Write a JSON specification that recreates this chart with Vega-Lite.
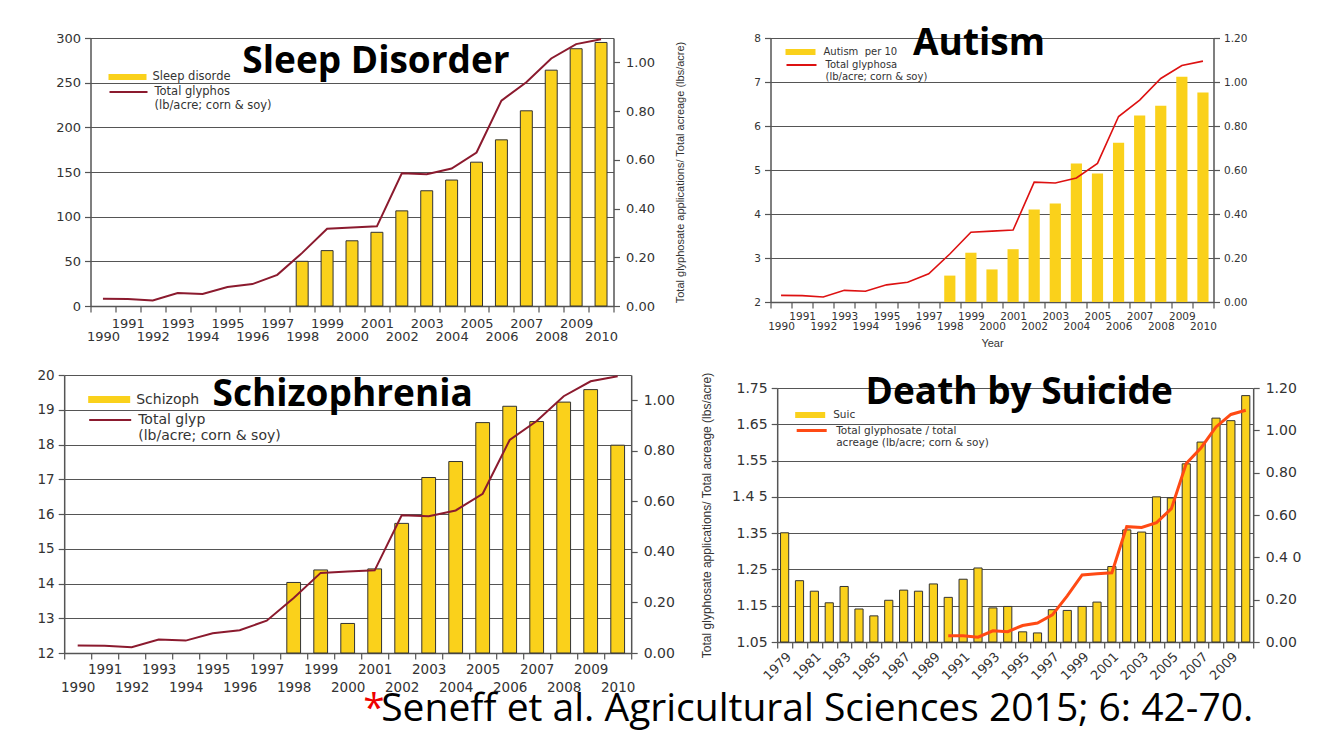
{
  "$schema": "https://vega.github.io/schema/vega-lite/v6.json",
  "background": "white",
  "padding": {"left": 8, "top": 25, "right": 5, "bottom": 2},
  "config": {
    "view": {"stroke": null},
    "font": "DejaVu Sans",
    "axis": {"labelFont": "DejaVu Sans", "titleFont": "Liberation Sans", "labelColor": "#333", "titleColor": "#333", "titleFontWeight": "normal", "domainColor": "#555", "tickColor": "#555", "gridColor": "#555", "gridOpacity": 1, "domainWidth": 1.5, "tickWidth": 1.2, "gridWidth": 1.2},
    "legend": {"labelFont": "DejaVu Sans", "labelColor": "#333", "padding": 0},
    "title": {"font": "Open Sans", "fontWeight": "bold", "color": "#000", "anchor": "middle", "frame": "group", "baseline": "alphabetic"}
  },
  "title": {"text": "Seneff et al. Agricultural Sciences 2015; 6: 42-70.", "orient": "bottom", "anchor": "start", "frame": "bounds", "font": "Open Sans", "fontSize": 39, "fontWeight": "normal", "color": "#000", "dx": 373, "offset": -39, "baseline": "top"},
  "spacing": 20,
  "center": true,
  "resolve": {"scale": {"fill": "independent", "stroke": "independent"}, "legend": {"fill": "independent", "stroke": "independent"}},
  "vconcat": [
    {
      "hconcat": [
        {
          "width": 523, "height": 268,
          "title": {"text": "Sleep Disorder", "fontSize": 37, "offset": -49, "dx": 24},
          "data": {"values": [
            {"year": 1990, "glyph": 0.030}, {"year": 1991, "glyph": 0.029}, {"year": 1992, "glyph": 0.023}, {"year": 1993, "glyph": 0.053},
            {"year": 1994, "glyph": 0.049}, {"year": 1995, "glyph": 0.078}, {"year": 1996, "glyph": 0.090}, {"year": 1997, "glyph": 0.128},
            {"year": 1998, "rate": 50, "glyph": 0.218}, {"year": 1999, "rate": 62, "glyph": 0.317}, {"year": 2000, "rate": 73, "glyph": 0.322},
            {"year": 2001, "rate": 82.5, "glyph": 0.327}, {"year": 2002, "rate": 106.5, "glyph": 0.545}, {"year": 2003, "rate": 129, "glyph": 0.541},
            {"year": 2004, "rate": 141, "glyph": 0.564}, {"year": 2005, "rate": 161, "glyph": 0.630}, {"year": 2006, "rate": 186, "glyph": 0.843},
            {"year": 2007, "rate": 218.5, "glyph": 0.918}, {"year": 2008, "rate": 264, "glyph": 1.016}, {"year": 2009, "rate": 288, "glyph": 1.075},
            {"year": 2010, "rate": 295, "glyph": 1.095}
          ]},
          "encoding": {"x": {"field": "year", "type": "ordinal", "scale": {"paddingInner": 0, "paddingOuter": 0},
            "axis": {"title": null, "tickBand": "extent", "labelAngle": 0, "labelOverlap": false, "labelExpr": "datum.value % 2 == 1 ? [datum.label, ''] : ['', datum.label]", "labelLineHeight": 13, "labelFontSize": 13, "tickSize": 6, "labelPadding": 5}}},
          "layer": [
            {"mark": {"type": "bar", "width": {"band": 0.48}, "stroke": "#333", "strokeWidth": 1},
             "encoding": {
               "y": {"field": "rate", "type": "quantitative", "scale": {"domain": [0, 300], "nice": false, "zero": false},
                     "axis": {"orient": "left", "title": null, "grid": true, "values": [0, 50, 100, 150, 200, 250, 300], "labelFontSize": 13, "tickSize": 6, "labelPadding": 4, "minExtent": 56, "maxExtent": 56}},
               "fill": {"datum": "Sleep disorde", "type": "nominal", "scale": {"range": ["#FAD11B"]},
                        "legend": {"orient": "none", "legendX": 18, "legendY": 20, "title": null, "symbolType": "M-1,-0.16L1,-0.16L1,0.16L-1,0.16Z", "symbolSize": 1444, "symbolStrokeWidth": 0, "labelFontSize": 11.5, "labelOffset": 6}}
             }},
            {"mark": {"type": "line", "strokeWidth": 2},
             "encoding": {
               "y": {"field": "glyph", "type": "quantitative", "scale": {"domain": [0, 1.1], "nice": false, "zero": false},
                     "axis": {"orient": "right", "grid": false, "values": [0, 0.2, 0.4, 0.6, 0.8, 1.0], "format": ".2f", "labelFontSize": 13, "tickSize": 6, "labelPadding": 6, "minExtent": 42, "maxExtent": 42,
                              "title": "Total glyphosate applications/ Total acreage (lbs/acre)", "titleFontSize": 11, "titleAngle": -90, "titleBaseline": "top", "titlePadding": 19}},
               "stroke": {"datum": "Total glyphos|(lb/acre; corn & soy)", "type": "nominal", "scale": {"range": ["#8B1A2E"]},
                          "legend": {"orient": "none", "legendX": 18, "legendY": 34, "title": null, "symbolType": "stroke", "symbolSize": 1444, "symbolStrokeWidth": 2, "labelFontSize": 11.5, "labelOffset": 6, "labelExpr": "split(datum.label, '|')"}}
             }}
          ],
          "resolve": {"scale": {"y": "independent"}, "axis": {"y": "independent"}}
        },
        {
          "width": 443, "height": 264,
          "title": {"text": "Autism", "fontSize": 37, "offset": -30, "dx": -13},
          "data": {"values": [
            {"year": 1990, "glyph": 0.030}, {"year": 1991, "glyph": 0.029}, {"year": 1992, "glyph": 0.023}, {"year": 1993, "glyph": 0.053},
            {"year": 1994, "glyph": 0.049}, {"year": 1995, "glyph": 0.078}, {"year": 1996, "glyph": 0.090}, {"year": 1997, "glyph": 0.128},
            {"year": 1998, "rate": 2.60, "glyph": 0.218}, {"year": 1999, "rate": 3.12, "glyph": 0.317}, {"year": 2000, "rate": 2.74, "glyph": 0.322},
            {"year": 2001, "rate": 3.20, "glyph": 0.327}, {"year": 2002, "rate": 4.10, "glyph": 0.545}, {"year": 2003, "rate": 4.24, "glyph": 0.541},
            {"year": 2004, "rate": 5.15, "glyph": 0.564}, {"year": 2005, "rate": 4.92, "glyph": 0.630}, {"year": 2006, "rate": 5.62, "glyph": 0.843},
            {"year": 2007, "rate": 6.24, "glyph": 0.918}, {"year": 2008, "rate": 6.46, "glyph": 1.016}, {"year": 2009, "rate": 7.12, "glyph": 1.075},
            {"year": 2010, "rate": 6.76, "glyph": 1.095}
          ]},
          "encoding": {"x": {"field": "year", "type": "ordinal", "scale": {"paddingInner": 0, "paddingOuter": 0},
            "axis": {"title": "Year", "titleFontSize": 11, "titlePadding": 5, "tickBand": "extent", "labelAngle": 0, "labelOverlap": false, "labelExpr": "datum.value % 2 == 1 ? [datum.label, ''] : ['', datum.label]", "labelLineHeight": 10.5, "labelFontSize": 10.5, "tickSize": 6, "labelPadding": 3}}},
          "layer": [
            {"mark": {"type": "bar", "width": {"band": 0.53}},
             "encoding": {
               "y": {"field": "rate", "type": "quantitative", "scale": {"domain": [2, 8], "nice": false, "zero": false},
                     "axis": {"orient": "left", "title": null, "grid": true, "values": [2, 3, 4, 5, 6, 7, 8], "labelFontSize": 10.5, "tickSize": 6, "labelPadding": 4}},
               "y2": {"datum": 2},
               "fill": {"datum": "Autism\u00a0 per 10", "type": "nominal", "scale": {"range": ["#FAD11B"]},
                        "legend": {"orient": "none", "legendX": 15, "legendY": -1, "title": null, "symbolType": "M-1,-0.2L1,-0.2L1,0.2L-1,0.2Z", "symbolSize": 900, "symbolStrokeWidth": 0, "labelFontSize": 10, "labelOffset": 8}}
             }},
            {"mark": {"type": "line", "strokeWidth": 1.6},
             "encoding": {
               "y": {"field": "glyph", "type": "quantitative", "scale": {"domain": [0, 1.2], "nice": false, "zero": false},
                     "axis": {"orient": "right", "grid": false, "title": null, "values": [0, 0.2, 0.4, 0.6, 0.8, 1.0, 1.2], "format": ".2f", "labelFontSize": 10.5, "tickSize": 6, "labelPadding": 4, "minExtent": 61, "maxExtent": 61}},
               "stroke": {"datum": "Total glyphosa|(lb/acre; corn & soy)", "type": "nominal", "scale": {"range": ["#DD1111"]},
                          "legend": {"orient": "none", "legendX": 15, "legendY": 11, "title": null, "symbolType": "stroke", "symbolSize": 900, "symbolStrokeWidth": 2, "labelFontSize": 10, "labelOffset": 8, "labelExpr": "split(datum.label, '|')"}}
             }}
          ],
          "resolve": {"scale": {"y": "independent"}, "axis": {"y": "independent"}}
        }
      ],
      "bounds": "flush",
      "spacing": 157,
      "resolve": {"scale": {"fill": "independent", "stroke": "independent"}, "legend": {"fill": "independent", "stroke": "independent"}}
    },
    {
      "title": {"text": "*", "orient": "bottom", "anchor": "start", "frame": "bounds", "font": "Open Sans", "fontSize": 39, "fontWeight": "normal", "color": "#EE0000", "dx": 355, "offset": -4, "baseline": "top"},
      "hconcat": [
        {
          "width": 567, "height": 278,
          "title": {"text": "Schizophrenia", "fontSize": 37, "offset": -46, "dx": -5},
          "data": {"values": [
            {"year": 1990, "glyph": 0.030}, {"year": 1991, "glyph": 0.029}, {"year": 1992, "glyph": 0.023}, {"year": 1993, "glyph": 0.053},
            {"year": 1994, "glyph": 0.049}, {"year": 1995, "glyph": 0.078}, {"year": 1996, "glyph": 0.090}, {"year": 1997, "glyph": 0.128},
            {"year": 1998, "rate": 14.03, "glyph": 0.218}, {"year": 1999, "rate": 14.39, "glyph": 0.317}, {"year": 2000, "rate": 12.85, "glyph": 0.322},
            {"year": 2001, "rate": 14.42, "glyph": 0.327}, {"year": 2002, "rate": 15.73, "glyph": 0.545}, {"year": 2003, "rate": 17.05, "glyph": 0.541},
            {"year": 2004, "rate": 17.51, "glyph": 0.564}, {"year": 2005, "rate": 18.63, "glyph": 0.630}, {"year": 2006, "rate": 19.10, "glyph": 0.843},
            {"year": 2007, "rate": 18.66, "glyph": 0.918}, {"year": 2008, "rate": 19.22, "glyph": 1.016}, {"year": 2009, "rate": 19.58, "glyph": 1.075},
            {"year": 2010, "rate": 17.98, "glyph": 1.095}
          ]},
          "encoding": {"x": {"field": "year", "type": "ordinal", "scale": {"paddingInner": 0, "paddingOuter": 0},
            "axis": {"title": null, "tickBand": "extent", "labelAngle": 0, "labelOverlap": false, "labelExpr": "datum.value % 2 == 1 ? [datum.label, ''] : ['', datum.label]", "labelLineHeight": 18, "labelFontSize": 13.5, "tickSize": 6, "labelPadding": 3}}},
          "layer": [
            {"mark": {"type": "bar", "width": {"band": 0.51}, "stroke": "#333", "strokeWidth": 1},
             "encoding": {
               "y": {"field": "rate", "type": "quantitative", "scale": {"domain": [12, 20], "nice": false, "zero": false},
                     "axis": {"orient": "left", "title": null, "grid": true, "values": [12, 13, 14, 15, 16, 17, 18, 19, 20], "labelFontSize": 13.5, "tickSize": 6, "labelPadding": 4, "minExtent": 56, "maxExtent": 56}},
               "y2": {"datum": 12},
               "fill": {"datum": "Schizoph", "type": "nominal", "scale": {"range": ["#FAD11B"]},
                        "legend": {"orient": "none", "legendX": 24, "legendY": 3.5, "title": null, "symbolType": "M-1,-0.17L1,-0.17L1,0.17L-1,0.17Z", "symbolSize": 1764, "symbolStrokeWidth": 0, "labelFontSize": 14, "labelOffset": 6}}
             }},
            {"mark": {"type": "line", "strokeWidth": 2},
             "encoding": {
               "y": {"field": "glyph", "type": "quantitative", "scale": {"domain": [0, 1.1], "nice": false, "zero": false},
                     "axis": {"orient": "right", "grid": false, "title": null, "values": [0, 0.2, 0.4, 0.6, 0.8, 1.0], "format": ".2f", "labelFontSize": 14, "tickSize": 6, "labelPadding": 6, "minExtent": 47, "maxExtent": 47}},
               "stroke": {"datum": "Total glyp|(lb/acre; corn & soy)", "type": "nominal", "scale": {"range": ["#8B1A2E"]},
                          "legend": {"orient": "none", "legendX": 24, "legendY": 23, "title": null, "symbolType": "stroke", "symbolSize": 1764, "symbolStrokeWidth": 2, "labelFontSize": 14, "labelOffset": 6, "labelExpr": "split(datum.label, '|')"}}
             }}
          ],
          "resolve": {"scale": {"y": "independent"}, "axis": {"y": "independent"}}
        },
        {
          "width": 476, "height": 278,
          "title": {"text": "Death by Suicide", "fontSize": 37, "offset": -40, "dx": 4},
          "data": {"values": [
            {"year": 1979, "rate": 1.351}, {"year": 1980, "rate": 1.219}, {"year": 1981, "rate": 1.190}, {"year": 1982, "rate": 1.158},
            {"year": 1983, "rate": 1.203}, {"year": 1984, "rate": 1.141}, {"year": 1985, "rate": 1.122}, {"year": 1986, "rate": 1.165},
            {"year": 1987, "rate": 1.193}, {"year": 1988, "rate": 1.190}, {"year": 1989, "rate": 1.210},
            {"year": 1990, "rate": 1.173, "glyph": 0.030}, {"year": 1991, "rate": 1.223, "glyph": 0.029}, {"year": 1992, "rate": 1.254, "glyph": 0.023},
            {"year": 1993, "rate": 1.144, "glyph": 0.053}, {"year": 1994, "rate": 1.148, "glyph": 0.049}, {"year": 1995, "rate": 1.078, "glyph": 0.078},
            {"year": 1996, "rate": 1.075, "glyph": 0.090}, {"year": 1997, "rate": 1.139, "glyph": 0.128}, {"year": 1998, "rate": 1.137, "glyph": 0.218},
            {"year": 1999, "rate": 1.148, "glyph": 0.317}, {"year": 2000, "rate": 1.160, "glyph": 0.322}, {"year": 2001, "rate": 1.258, "glyph": 0.327},
            {"year": 2002, "rate": 1.359, "glyph": 0.545}, {"year": 2003, "rate": 1.353, "glyph": 0.541}, {"year": 2004, "rate": 1.450, "glyph": 0.564},
            {"year": 2005, "rate": 1.447, "glyph": 0.630}, {"year": 2006, "rate": 1.541, "glyph": 0.843}, {"year": 2007, "rate": 1.601, "glyph": 0.918},
            {"year": 2008, "rate": 1.667, "glyph": 1.016}, {"year": 2009, "rate": 1.660, "glyph": 1.075}, {"year": 2010, "rate": 1.729, "glyph": 1.095}
          ]},
          "encoding": {"x": {"field": "year", "type": "ordinal", "scale": {"paddingInner": 0, "paddingOuter": 0},
            "axis": {"title": null, "offset": -11, "tickBand": "extent", "labelAngle": -45, "labelOverlap": false, "labelExpr": "datum.value % 2 == 1 ? datum.label : ''", "labelFontSize": 13, "tickSize": 6, "labelPadding": 2}}},
          "layer": [
            {"mark": {"type": "bar", "width": {"band": 0.55}, "stroke": "#333", "strokeWidth": 1},
             "encoding": {
               "y": {"field": "rate", "type": "quantitative", "scale": {"domain": [1.05, 1.75], "range": [267, 13], "nice": false, "zero": false},
                     "axis": {"orient": "left", "grid": true, "values": [1.05, 1.15, 1.25, 1.35, 1.45, 1.55, 1.65, 1.75], "format": ".2f", "labelExpr": "datum.label == '1.45' ? '1.4 5' : datum.label", "labelFontSize": 14, "tickSize": 6, "labelPadding": 4, "minExtent": 42, "maxExtent": 42,
                              "title": "Total glyphosate applications/ Total acreage (lbs/acre)", "titleFontSize": 12, "titlePadding": 22}},
               "y2": {"datum": 1.05},
               "fill": {"datum": "Suic", "type": "nominal", "scale": {"range": ["#FAD11B"]},
                        "legend": {"orient": "none", "legendX": 18, "legendY": 25, "title": null, "symbolType": "M-1,-0.2L1,-0.2L1,0.2L-1,0.2Z", "symbolSize": 900, "symbolStrokeWidth": 0, "labelFontSize": 10.5, "labelOffset": 8}}
             }},
            {"mark": {"type": "line", "strokeWidth": 3},
             "encoding": {
               "y": {"field": "glyph", "type": "quantitative", "scale": {"domain": [0, 1.2], "range": [267, 13], "nice": false, "zero": false},
                     "axis": {"orient": "right", "grid": false, "title": null, "values": [0, 0.2, 0.4, 0.6, 0.8, 1.0, 1.2], "format": ".2f", "labelExpr": "datum.label == '0.40' ? '0.4 0' : datum.label", "labelFontSize": 14, "tickSize": 6, "labelPadding": 6, "minExtent": 44, "maxExtent": 44}},
               "stroke": {"datum": "Total glyphosate / total|acreage (lb/acre; corn & soy)", "type": "nominal", "scale": {"range": ["#FF4A14"]},
                          "legend": {"orient": "none", "legendX": 18, "legendY": 39, "title": null, "symbolType": "stroke", "symbolSize": 900, "symbolStrokeWidth": 3, "labelFontSize": 10.5, "labelOffset": 8, "labelExpr": "split(datum.label, '|')"}}
             }}
          ],
          "resolve": {"scale": {"y": "independent"}, "axis": {"y": "independent"}}
        }
      ],
      "spacing": 21,
      "resolve": {"scale": {"fill": "independent", "stroke": "independent"}, "legend": {"fill": "independent", "stroke": "independent"}}
    }
  ]
}
